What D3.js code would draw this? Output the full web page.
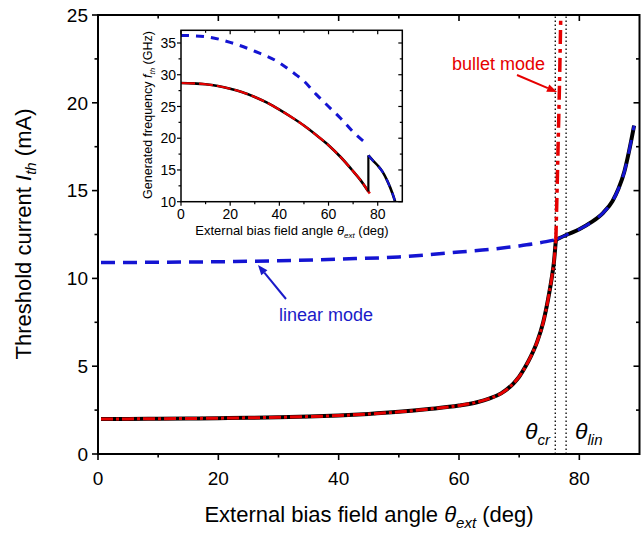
<!DOCTYPE html>
<html>
<head>
<meta charset="utf-8">
<script src="https://cdn.jsdelivr.net/npm/d3@7"></script>
<style>
  body { margin: 0; background: #fff; }
  text { font-family: "Liberation Sans", Arial, sans-serif; fill: #000; }
</style>
</head>
<body>
<svg id="chart" width="642" height="534"></svg>
<script>
// main plot: threshold current vs angle
const bulletCurrent = [[0.5, 2.0], [5, 2.0], [10, 2.01], [15, 2.02], [20, 2.04], [25, 2.06], [30, 2.09], [35, 2.13], [40, 2.19], [45, 2.28], [50, 2.4], [55, 2.56], [60, 2.76], [63, 2.95], [65, 3.15], [67, 3.45], [69, 4.0], [70, 4.4], [71, 4.95], [72, 5.6], [73, 6.4], [74, 7.5], [74.8, 8.8], [75.4, 10.0], [75.8, 11.0], [76.1, 12.2]]
const bulletUpper = [[76.1, 12.2], [76.3, 15.0], [76.5, 18.0], [76.7, 21.0], [76.9, 24.7]]
const linearBelow = [[0.5, 10.9], [10, 10.92], [20, 10.95], [30, 11.0], [40, 11.1], [50, 11.22], [55, 11.35], [60, 11.5], [65, 11.65], [70, 11.85], [73, 12.0], [76.1, 12.2]]
const linearAbove = [[76.1, 12.2], [78, 12.5], [80, 12.8], [82, 13.2], [84, 13.75], [85.5, 14.4], [86.5, 15.1], [87.5, 16.1], [88.3, 17.3], [89.1, 18.7]]
const modeBounds = [76.0, 77.8]

// inset: generated frequency vs angle
const bulletFreq = [[0, 28.7], [5, 28.64], [10, 28.5], [15, 28.22], [20, 27.8], [25, 27.25], [30, 26.5], [35, 25.6], [40, 24.5], [45, 23.3], [50, 22.0], [55, 20.5], [60, 18.9], [65, 17.0], [70, 14.8], [73, 13.4], [76.2, 11.6]]
const bulletFreqRed = [[76.2, 11.6], [76.8, 11.3]]
const freqJump = [[76.2, 11.6], [76.2, 17.3]]
const linearFreqBelow = [[0, 36.2], [10, 36.0], [20, 35.1], [30, 33.7], [40, 31.9], [45, 30.5], [50, 29.0], [55, 26.9], [60, 25.0], [65, 23.1], [70, 21.0], [76.2, 18.9]]
const linearFreqAbove = [[76.2, 17.3], [78, 16.5], [80, 15.7], [82, 14.7], [84, 13.2], [86, 11.3], [87.1, 10.0]]

const xTicks = [0, 20, 40, 60, 80]
const xMinor = [10, 30, 50, 70]
const yTicks = [0, 5, 10, 15, 20, 25]
const yMinor = [2.5, 7.5, 12.5, 17.5, 22.5]
const insetYTicks = [10, 15, 20, 25, 30, 35]
const insetYMinor = [12.5, 17.5, 22.5, 27.5, 32.5]

const BLUE = '#1414d2'
const RED = '#e60000'

const svg = d3.select('#chart')

// draw a framed Origin-style box: outward ticks left/bottom, inward top/right
function drawFrame (g, x, y, opts) {
  const [x0, x1] = x.range()
  const [y0, y1] = y.range()
  const major = opts.major
  const minor = opts.minor

  g.append('rect')
    .attr('x', x0).attr('y', y1)
    .attr('width', x1 - x0).attr('height', y0 - y1)
    .attr('fill', opts.fill || 'none')
    .attr('stroke', '#000')
    .attr('stroke-width', opts.width)

  const ticks = g.append('g').attr('stroke', '#000').attr('stroke-width', opts.width * 0.8)
  const addX = (v, len) => {
    ticks.append('line').attr('x1', x(v)).attr('x2', x(v)).attr('y1', y0).attr('y2', y0 + len)
    ticks.append('line').attr('x1', x(v)).attr('x2', x(v)).attr('y1', y1).attr('y2', y1 + len)
  }
  const addY = (v, len) => {
    ticks.append('line').attr('y1', y(v)).attr('y2', y(v)).attr('x1', x0).attr('x2', x0 - len)
    ticks.append('line').attr('y1', y(v)).attr('y2', y(v)).attr('x1', x1).attr('x2', x1 - len)
  }
  opts.xTicks.forEach(v => addX(v, major))
  opts.xMinor.forEach(v => addX(v, minor))
  opts.yTicks.forEach(v => addY(v, major))
  opts.yMinor.forEach(v => addY(v, minor))

  g.append('g').selectAll('text').data(opts.xTicks).join('text')
    .attr('x', d => x(d)).attr('y', y0 + opts.xLabelOffset)
    .attr('text-anchor', 'middle')
    .attr('font-size', opts.fontSize)
    .text(d => d)

  g.append('g').selectAll('text').data(opts.yTicks).join('text')
    .attr('x', x0 - opts.yLabelOffset).attr('y', d => y(d))
    .attr('dy', '0.36em')
    .attr('text-anchor', 'end')
    .attr('font-size', opts.fontSize)
    .text(d => d)
}

function drawCurve (g, line, data, color, width, dash) {
  return g.append('path')
    .datum(data)
    .attr('d', line)
    .attr('fill', 'none')
    .attr('stroke', color)
    .attr('stroke-width', width)
    .attr('stroke-dasharray', dash || null)
    .attr('stroke-linejoin', 'round')
}

function drawArrow (g, from, to, color) {
  const ang = Math.atan2(to[1] - from[1], to[0] - from[0])
  const len = 10
  const half = 4
  const bx = to[0] - len * Math.cos(ang)
  const by = to[1] - len * Math.sin(ang)
  g.append('line')
    .attr('x1', from[0]).attr('y1', from[1])
    .attr('x2', bx).attr('y2', by)
    .attr('stroke', color).attr('stroke-width', 2)
  g.append('path')
    .attr('d', `M${to[0]},${to[1]} L${bx - half * Math.sin(ang)},${by + half * Math.cos(ang)} L${bx + half * Math.sin(ang)},${by - half * Math.cos(ang)} Z`)
    .attr('fill', color)
}

// ---------- main plot ----------
const x = d3.scaleLinear().domain([0, 90]).range([98, 639.5])
const y = d3.scaleLinear().domain([0, 25]).range([454, 15])
const line = d3.line().x(d => x(d[0])).y(d => y(d[1])).curve(d3.curveMonotoneX)

const main = svg.append('g')

// dotted mode boundaries
main.append('g').selectAll('line').data(modeBounds).join('line')
  .attr('x1', d => x(d)).attr('x2', d => x(d))
  .attr('y1', y(0)).attr('y2', y(25))
  .attr('stroke', '#000').attr('stroke-width', 1.3)
  .attr('stroke-dasharray', '1.5,2.5')

drawCurve(main, line, linearBelow, BLUE, 3.5, '14,8')
drawCurve(main, line, linearAbove, '#000', 4)
drawCurve(main, line, linearAbove, BLUE, 3, '14,10')
drawCurve(main, line, bulletCurrent, '#000', 4)
drawCurve(main, line, bulletCurrent, RED, 3, '12,3,3,3')
drawCurve(main, line, bulletUpper, RED, 3.5, '14,5,4,5')

drawFrame(main, x, y, {
  width: 2, major: 6, minor: 3.5,
  xTicks, xMinor, yTicks, yMinor,
  fontSize: 19, xLabelOffset: 31, yLabelOffset: 10
})

// axis titles
const yTitle = main.append('text')
  .attr('transform', `translate(31, 234) rotate(-90)`)
  .attr('text-anchor', 'middle')
  .attr('font-size', 22)
yTitle.append('tspan').text('Threshold current ')
yTitle.append('tspan').attr('font-style', 'italic').text('I')
yTitle.append('tspan').attr('font-style', 'italic').attr('font-size', 15).attr('dy', 5).text('th')
yTitle.append('tspan').attr('dy', -5).text(' (mA)')

const xTitle = main.append('text')
  .attr('x', 369).attr('y', 522)
  .attr('text-anchor', 'middle')
  .attr('font-size', 22)
xTitle.append('tspan').text('External bias field angle ')
xTitle.append('tspan').attr('font-style', 'italic').text('θ')
xTitle.append('tspan').attr('font-style', 'italic').attr('font-size', 15).attr('dy', 6).text('ext')
xTitle.append('tspan').attr('dy', -6).text(' (deg)')

// mode annotations
main.append('text').attr('x', 545).attr('y', 70)
  .attr('text-anchor', 'end').attr('font-size', 18)
  .style('fill', RED).text('bullet mode')
drawArrow(main, [517, 75], [557, 92], RED)

main.append('text').attr('x', 279).attr('y', 321)
  .attr('font-size', 18)
  .style('fill', '#1a1ac8').text('linear mode')
drawArrow(main, [286, 299], [258, 265], '#1a1ac8')

const thCr = main.append('text').attr('x', 525).attr('y', 439).attr('font-size', 23).attr('font-style', 'italic')
thCr.append('tspan').text('θ')
thCr.append('tspan').attr('font-size', 15).attr('dy', 6).text('cr')
const thLin = main.append('text').attr('x', 575).attr('y', 439).attr('font-size', 23).attr('font-style', 'italic')
thLin.append('tspan').text('θ')
thLin.append('tspan').attr('font-size', 15).attr('dy', 6).text('lin')

// ---------- inset ----------
const ix = d3.scaleLinear().domain([0, 90]).range([181, 402.3])
const iy = d3.scaleLinear().domain([10, 37]).range([201.7, 30.3])
const iline = d3.line().x(d => ix(d[0])).y(d => iy(d[1])).curve(d3.curveMonotoneX)
const ilineStraight = d3.line().x(d => ix(d[0])).y(d => iy(d[1]))
const inset = svg.append('g')

inset.append('rect')
  .attr('x', ix(0)).attr('y', iy(37))
  .attr('width', ix(90) - ix(0)).attr('height', iy(10) - iy(37))
  .attr('fill', '#fff')

drawCurve(inset, iline, linearFreqBelow, BLUE, 3, '8,7')
drawCurve(inset, iline, bulletFreq, '#000', 2.6)
drawCurve(inset, iline, bulletFreq, RED, 2.2, '14,4')
drawCurve(inset, ilineStraight, bulletFreqRed, RED, 2.6)
drawCurve(inset, ilineStraight, freqJump, '#000', 2.2)
drawCurve(inset, iline, linearFreqAbove, '#000', 2.6)
drawCurve(inset, iline, linearFreqAbove, BLUE, 2.2, '8,7')

drawFrame(inset, ix, iy, {
  width: 1.5, major: 4, minor: 2.5,
  xTicks, xMinor, yTicks: insetYTicks, yMinor: insetYMinor,
  fontSize: 14, xLabelOffset: 17, yLabelOffset: 5
})

const iyTitle = inset.append('text')
  .attr('transform', `translate(152, 115) rotate(-90)`)
  .attr('text-anchor', 'middle')
  .attr('font-size', 12.5)
iyTitle.append('tspan').text('Generated frequency ')
iyTitle.append('tspan').attr('font-style', 'italic').text('f')
iyTitle.append('tspan').attr('font-style', 'italic').attr('font-size', 8).attr('dy', 3).text('th')
iyTitle.append('tspan').attr('dy', -3).text(' (GHz)')

const ixTitle = inset.append('text')
  .attr('x', 292).attr('y', 235)
  .attr('text-anchor', 'middle')
  .attr('font-size', 13)
ixTitle.append('tspan').text('External bias field angle ')
ixTitle.append('tspan').attr('font-style', 'italic').text('θ')
ixTitle.append('tspan').attr('font-style', 'italic').attr('font-size', 8).attr('dy', 3).text('ext')
ixTitle.append('tspan').attr('dy', -3).text(' (deg)')
</script>
</body>
</html>
